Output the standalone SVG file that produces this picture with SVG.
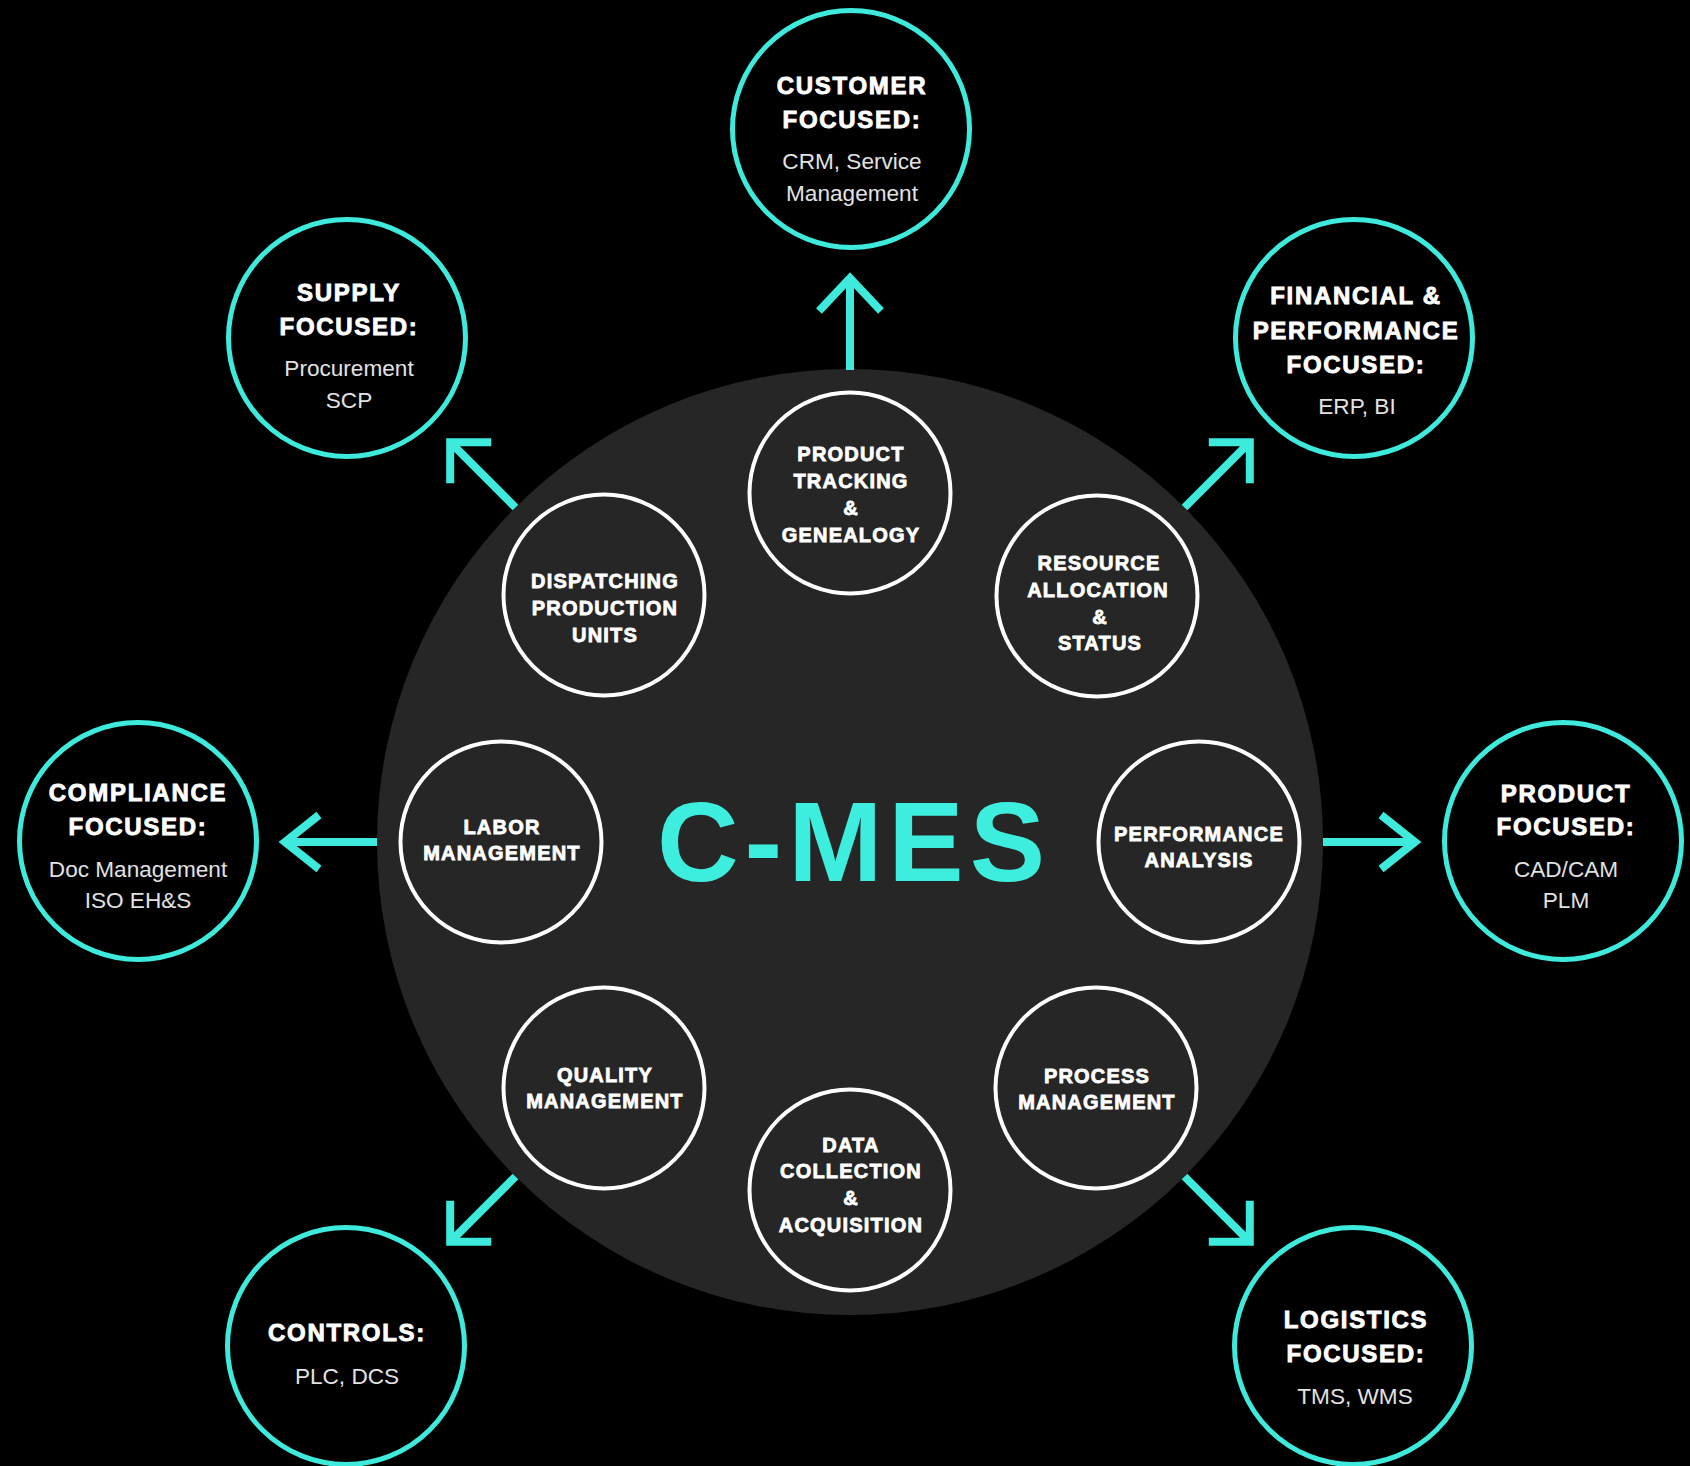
<svg xmlns="http://www.w3.org/2000/svg" width="1690" height="1466" viewBox="0 0 1690 1466">
  <style>
    .hub { fill: #262626; }
    .ext { fill: #000; stroke: #3DEADC; stroke-width: 5; }
    .mod { fill: none; stroke: #fff; stroke-width: 4; }
    .arrow { fill: none; stroke: #3DEADC; stroke-width: 8; stroke-linejoin: miter; stroke-miterlimit: 10; stroke-linecap: butt; }
    .title { font-family: "Liberation Sans", Arial, sans-serif; font-weight: bold; font-size: 24px; letter-spacing: 1.7px; fill: #fff; stroke: #fff; stroke-width: 0.9px; text-anchor: middle; }
    .sub { font-family: "Liberation Sans", Arial, sans-serif; font-size: 22.6px; fill: #e2e2e2; text-anchor: middle; }
    .lbl { font-family: "Liberation Sans", Arial, sans-serif; font-weight: bold; font-size: 20px; letter-spacing: 1.2px; fill: #fff; stroke: #fff; stroke-width: 0.8px; text-anchor: middle; }
    .brand { font-family: "Liberation Sans", Arial, sans-serif; font-weight: bold; font-size: 113px; letter-spacing: 6px; fill: #3DEEDE; text-anchor: middle; }
  </style>

  <rect width="1690" height="1466" fill="#000"/>

  <!-- central hub -->
  <g id="hub">
    <circle class="hub" cx="850" cy="842" r="473"/>
    <text class="brand" x="854" y="881">C-MES</text>
  </g>

  <!-- arrows from the hub out to the surrounding systems -->
  <g id="connectors">
    <!-- up: customer -->
    <path class="arrow" d="M850 370 L850 278 M819 311 L850 278 L881 311"/>
    <!-- right: product -->
    <path class="arrow" d="M1323 842 L1415 842 M1381 815 L1415 842 L1381 869"/>
    <!-- left: compliance -->
    <path class="arrow" d="M377 842 L285 842 M319 815 L285 842 L319 869"/>
    <!-- up-right: financial -->
    <path class="arrow" d="M1184.5 507.5 L1249.8 442.2 M1208.8 442.2 L1249.8 442.2 L1249.8 483.2"/>
    <!-- up-left: supply -->
    <path class="arrow" d="M515.5 507.5 L450.2 442.2 M491.2 442.2 L450.2 442.2 L450.2 483.2"/>
    <!-- down-left: controls -->
    <path class="arrow" d="M515.5 1176.5 L450.2 1241.8 M491.2 1241.8 L450.2 1241.8 L450.2 1200.8"/>
    <!-- down-right: logistics -->
    <path class="arrow" d="M1184.5 1176.5 L1249.8 1241.8 M1208.8 1241.8 L1249.8 1241.8 L1249.8 1200.8"/>
  </g>

  <!-- MES function modules inside the hub -->
  <g id="mod-tracking">
    <circle class="mod" cx="850" cy="493" r="100.5"/>
    <text class="lbl" x="851" y="461">PRODUCT</text>
    <text class="lbl" x="851" y="488">TRACKING</text>
    <text class="lbl" x="851" y="515">&amp;</text>
    <text class="lbl" x="851" y="542">GENEALOGY</text>
  </g>
  <g id="mod-resource">
    <circle class="mod" cx="1097" cy="596" r="100.5"/>
    <text class="lbl" x="1099" y="570">RESOURCE</text>
    <text class="lbl" x="1098" y="597">ALLOCATION</text>
    <text class="lbl" x="1100" y="624">&amp;</text>
    <text class="lbl" x="1100" y="650">STATUS</text>
  </g>
  <g id="mod-performance">
    <circle class="mod" cx="1199" cy="842" r="100.5"/>
    <text class="lbl" x="1199" y="841">PERFORMANCE</text>
    <text class="lbl" x="1199" y="867">ANALYSIS</text>
  </g>
  <g id="mod-process">
    <circle class="mod" cx="1096" cy="1088" r="100.5"/>
    <text class="lbl" x="1097" y="1082.5">PROCESS</text>
    <text class="lbl" x="1097" y="1108.5">MANAGEMENT</text>
  </g>
  <g id="mod-data">
    <circle class="mod" cx="850" cy="1190" r="100.5"/>
    <text class="lbl" x="851" y="1152">DATA</text>
    <text class="lbl" x="851" y="1178">COLLECTION</text>
    <text class="lbl" x="851" y="1205">&amp;</text>
    <text class="lbl" x="851" y="1232">ACQUISITION</text>
  </g>
  <g id="mod-quality">
    <circle class="mod" cx="604" cy="1088" r="100.5"/>
    <text class="lbl" x="605" y="1082">QUALITY</text>
    <text class="lbl" x="605" y="1108">MANAGEMENT</text>
  </g>
  <g id="mod-labor">
    <circle class="mod" cx="501" cy="842" r="100.5"/>
    <text class="lbl" x="502" y="833.5">LABOR</text>
    <text class="lbl" x="502" y="860">MANAGEMENT</text>
  </g>
  <g id="mod-dispatching">
    <circle class="mod" cx="604" cy="595" r="100.5"/>
    <text class="lbl" x="605" y="588">DISPATCHING</text>
    <text class="lbl" x="605" y="615">PRODUCTION</text>
    <text class="lbl" x="605" y="641.5">UNITS</text>
  </g>

  <!-- surrounding enterprise systems -->
  <g id="sys-customer">
    <circle class="ext" cx="851" cy="129" r="118.5"/>
    <text class="title" x="852" y="94">CUSTOMER</text>
    <text class="title" x="852" y="127.5">FOCUSED:</text>
    <text class="sub" x="852" y="169">CRM, Service</text>
    <text class="sub" x="852" y="201">Management</text>
  </g>
  <g id="sys-financial">
    <circle class="ext" cx="1354" cy="338" r="118.5"/>
    <text class="title" x="1356" y="304">FINANCIAL &amp;</text>
    <text class="title" x="1356" y="338.5">PERFORMANCE</text>
    <text class="title" x="1356" y="372.5">FOCUSED:</text>
    <text class="sub" x="1357" y="413.5">ERP, BI</text>
  </g>
  <g id="sys-product">
    <circle class="ext" cx="1563" cy="841" r="118.5"/>
    <text class="title" x="1566" y="801.5">PRODUCT</text>
    <text class="title" x="1566" y="835">FOCUSED:</text>
    <text class="sub" x="1566" y="876.5">CAD/CAM</text>
    <text class="sub" x="1566" y="908">PLM</text>
  </g>
  <g id="sys-logistics">
    <circle class="ext" cx="1353" cy="1346" r="118.5"/>
    <text class="title" x="1356" y="1327.5">LOGISTICS</text>
    <text class="title" x="1356" y="1361.5">FOCUSED:</text>
    <text class="sub" x="1355" y="1403.5">TMS, WMS</text>
  </g>
  <g id="sys-controls">
    <circle class="ext" cx="346" cy="1346" r="118.5"/>
    <text class="title" x="347" y="1341">CONTROLS:</text>
    <text class="sub" x="347" y="1383.5">PLC, DCS</text>
  </g>
  <g id="sys-compliance">
    <circle class="ext" cx="138" cy="841" r="118.5"/>
    <text class="title" x="138" y="801">COMPLIANCE</text>
    <text class="title" x="138" y="835">FOCUSED:</text>
    <text class="sub" x="138" y="876.5">Doc Management</text>
    <text class="sub" x="138" y="908">ISO EH&amp;S</text>
  </g>
  <g id="sys-supply">
    <circle class="ext" cx="347" cy="338" r="118.5"/>
    <text class="title" x="349" y="300.5">SUPPLY</text>
    <text class="title" x="349" y="334.5">FOCUSED:</text>
    <text class="sub" x="349" y="376">Procurement</text>
    <text class="sub" x="349" y="407.5">SCP</text>
  </g>
</svg>
